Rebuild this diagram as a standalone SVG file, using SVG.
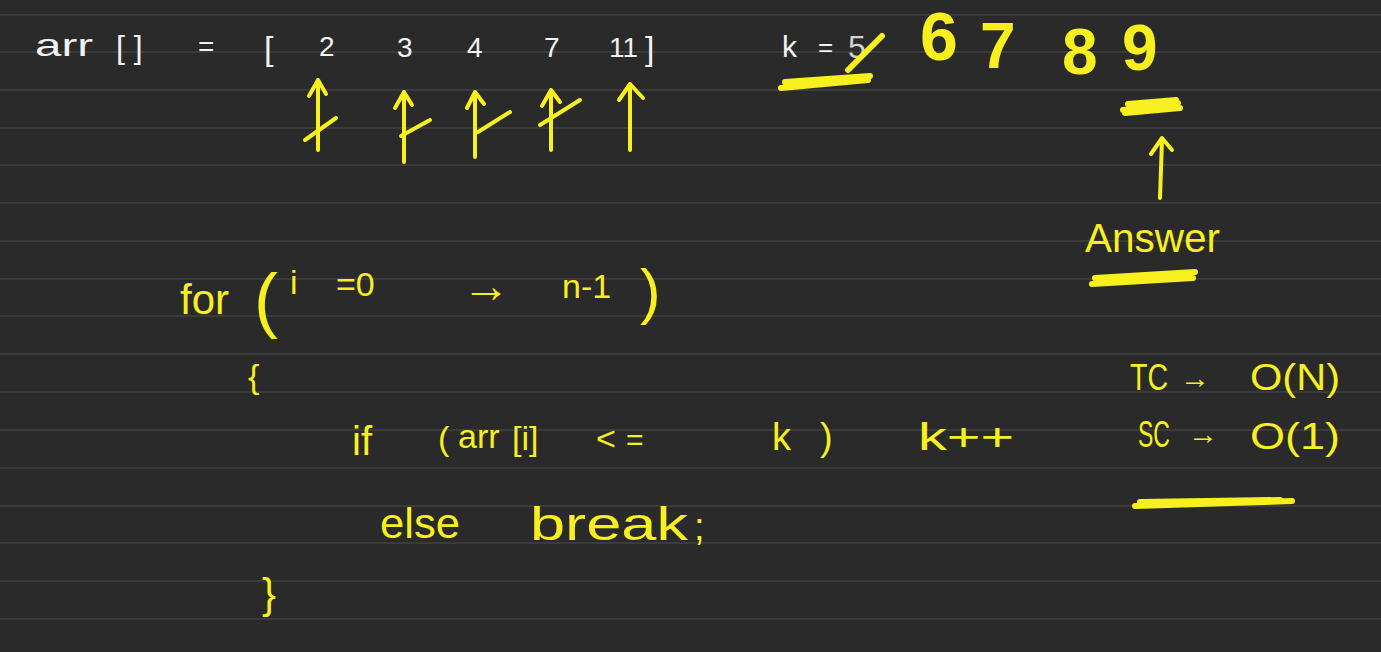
<svg xmlns="http://www.w3.org/2000/svg" width="1381" height="652" viewBox="0 0 1381 652">
<defs>
<style>
.bg{fill:#2a2a2a}
.rule{stroke:#3b3b3b;stroke-width:2}
.w{fill:#f2f2f2;font-family:"Liberation Sans",Arial,sans-serif}
.y{fill:#f7ef1e;font-family:"Liberation Sans",Arial,sans-serif}
.big{font-weight:bold}
.ys{stroke:#f7ef1e;stroke-width:4;fill:none;stroke-linecap:round;stroke-linejoin:round}
.yt{stroke:#f7ef1e;stroke-width:6;fill:none;stroke-linecap:round}
</style>
</defs>
<rect class="bg" x="0" y="0" width="1381" height="652"/>
<g id="ruled-lines">
<line class="rule" x1="0" y1="15" x2="1381" y2="15"/>
<line class="rule" x1="0" y1="52" x2="1381" y2="52"/>
<line class="rule" x1="0" y1="90" x2="1381" y2="90"/>
<line class="rule" x1="0" y1="128" x2="1381" y2="128"/>
<line class="rule" x1="0" y1="165" x2="1381" y2="165"/>
<line class="rule" x1="0" y1="203" x2="1381" y2="203"/>
<line class="rule" x1="0" y1="241" x2="1381" y2="241"/>
<line class="rule" x1="0" y1="279" x2="1381" y2="279"/>
<line class="rule" x1="0" y1="316" x2="1381" y2="316"/>
<line class="rule" x1="0" y1="354" x2="1381" y2="354"/>
<line class="rule" x1="0" y1="392" x2="1381" y2="392"/>
<line class="rule" x1="0" y1="430" x2="1381" y2="430"/>
<line class="rule" x1="0" y1="468" x2="1381" y2="468"/>
<line class="rule" x1="0" y1="506" x2="1381" y2="506"/>
<line class="rule" x1="0" y1="543" x2="1381" y2="543"/>
<line class="rule" x1="0" y1="581" x2="1381" y2="581"/>
<line class="rule" x1="0" y1="619" x2="1381" y2="619"/>
</g>
<g id="array">
<text class="w" x="35" y="56" font-size="32" textLength="58" lengthAdjust="spacingAndGlyphs">arr</text>
<text class="w" x="116" y="58" font-size="32">[ ]</text>
<text class="w" x="198" y="56" font-size="28">=</text>
<text class="w" x="264" y="60" font-size="34">[</text>
<text class="w" x="319" y="56" font-size="28">2</text>
<text class="w" x="397" y="57" font-size="28">3</text>
<text class="w" x="467" y="57" font-size="28">4</text>
<text class="w" x="544" y="57" font-size="28">7</text>
<text class="w" x="609" y="57" font-size="28">11</text>
<text class="w" x="645" y="60" font-size="34">]</text>
</g>
<g id="pointer-arrows">
<path class="ys" d="M318 150 L318 80 M309 96 L318 80 L326 94 M305 140 L336 118"/>
<path class="ys" d="M404 162 L404 92 M395 108 L404 92 L412 105 M401 136 L430 120"/>
<path class="ys" d="M475 157 L475 92 M467 108 L475 92 L484 104 M478 132 L510 112"/>
<path class="ys" d="M551 150 L551 90 M542 106 L551 90 L560 102 M540 125 L580 100"/>
<path class="ys" d="M630 150 L630 84 M619 100 L630 84 L643 98"/>
</g>
<g id="k-counter">
<text class="w" x="782" y="57" font-size="30">k</text>
<text class="w" x="818" y="56" font-size="26">=</text>
<text class="w" x="848" y="58" font-size="32" fill-opacity="0.85">5</text>
<path class="yt" d="M848 70 L882 36"/>
<text class="y big" x="920" y="60" font-size="68">6</text>
<text class="y big" x="980" y="68" font-size="64">7</text>
<text class="y big" x="1062" y="74" font-size="64">8</text>
<text class="y big" x="1122" y="70" font-size="64">9</text>
<path class="yt" d="M781 88 L868 80 M785 82 L870 76"/>
<path class="yt" d="M1123 110 L1178 103 M1128 104 L1176 100 M1125 113 L1180 108"/>
</g>
<g id="answer">
<text class="y" x="1085" y="252" font-size="40" textLength="135" lengthAdjust="spacingAndGlyphs">Answer</text>
<path class="yt" d="M1092 284 L1193 278 M1095 278 L1195 272"/>
</g>
<g id="connectors">
<path class="ys" d="M1160 198 L1162 140 M1151 154 L1162 138 L1172 150"/>
</g>
<g id="code">
<text class="y" x="180" y="314" font-size="42">for</text>
<text class="y" x="254" y="324" font-size="72">(</text>
<text class="y" x="290" y="294" font-size="34">i</text>
<text class="y" x="336" y="296" font-size="34">=0</text>
<text class="y" x="462" y="302" font-size="48">→</text>
<text class="y" x="562" y="298" font-size="34">n-1</text>
<text class="y" x="640" y="312" font-size="62">)</text>
<text class="y" x="248" y="388" font-size="34">{</text>
<text class="y" x="352" y="455" font-size="40">if</text>
<text class="y" x="438" y="450" font-size="34">(</text>
<text class="y" x="458" y="448" font-size="34">arr</text>
<text class="y" x="512" y="450" font-size="34">[i]</text>
<text class="y" x="596" y="450" font-size="34">&lt;</text>
<text class="y" x="626" y="450" font-size="30">=</text>
<text class="y" x="772" y="450" font-size="38">k</text>
<text class="y" x="820" y="450" font-size="38">)</text>
<text class="y" x="918" y="450" font-size="38" textLength="96" lengthAdjust="spacingAndGlyphs">k++</text>
<text class="y" x="380" y="538" font-size="42" textLength="80" lengthAdjust="spacingAndGlyphs">else</text>
<text class="y" x="530" y="540" font-size="46" textLength="158" lengthAdjust="spacingAndGlyphs">break</text>
<text class="y" x="694" y="540" font-size="38">;</text>
<text class="y" x="262" y="608" font-size="42">}</text>
</g>
<g id="complexity">
<text class="y" x="1130" y="390" font-size="36" textLength="38" lengthAdjust="spacingAndGlyphs">TC</text>
<text class="y" x="1180" y="388" font-size="30">→</text>
<text class="y" x="1250" y="390" font-size="36" textLength="90" lengthAdjust="spacingAndGlyphs">O(N)</text>
<text class="y" x="1138" y="447" font-size="36" textLength="32" lengthAdjust="spacingAndGlyphs">SC</text>
<text class="y" x="1188" y="444" font-size="30">→</text>
<text class="y" x="1250" y="449" font-size="36" textLength="90" lengthAdjust="spacingAndGlyphs">O(1)</text>
<path class="yt" d="M1135 506 L1292 501 M1140 502 L1280 500"/>
</g>
</svg>
